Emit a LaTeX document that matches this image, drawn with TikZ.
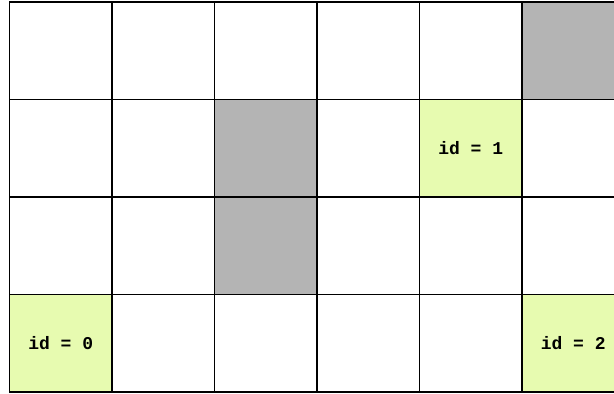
\documentclass[tikz,border=0pt]{standalone}
\usepackage{fontspec}
\setmonofont{Liberation Mono}
\usepackage{xcolor}
\usepackage{tikz}
\definecolor{blocked}{RGB}{180,180,180}
\definecolor{agent}{RGB}{231,251,176}

\begin{document}
\begin{tikzpicture}[x=102.5pt,y=-97.6pt,font=\ttfamily\bfseries\fontsize{18}{20}\selectfont,
  gridline/.style={line width=1.6pt,line cap=rect}]
\useasboundingbox (-9.5pt,1.8pt) rectangle (604.5pt,-392.2pt);
\clip (-9.5pt,1.8pt) rectangle (604.5pt,-392.2pt);
% walls
\foreach \c/\r in {5/0,2/1,2/2}
  \fill[blocked] (\c,\r) rectangle ++(1,1);
% agents
\foreach \c/\r/\i in {4/1/1,0/3/0,5/3/2} {
  \fill[agent] (\c,\r) rectangle ++(1,1);
  \node (id\i) at (\c+0.5,\r+0.5) {id = \i};
}
\foreach \c in {0,...,6}
  \draw[gridline] (\c,0) -- (\c,4);
\foreach \r in {0,...,4}
  \draw[gridline] (0,\r) -- (6,\r);
\end{tikzpicture}
\end{document}
